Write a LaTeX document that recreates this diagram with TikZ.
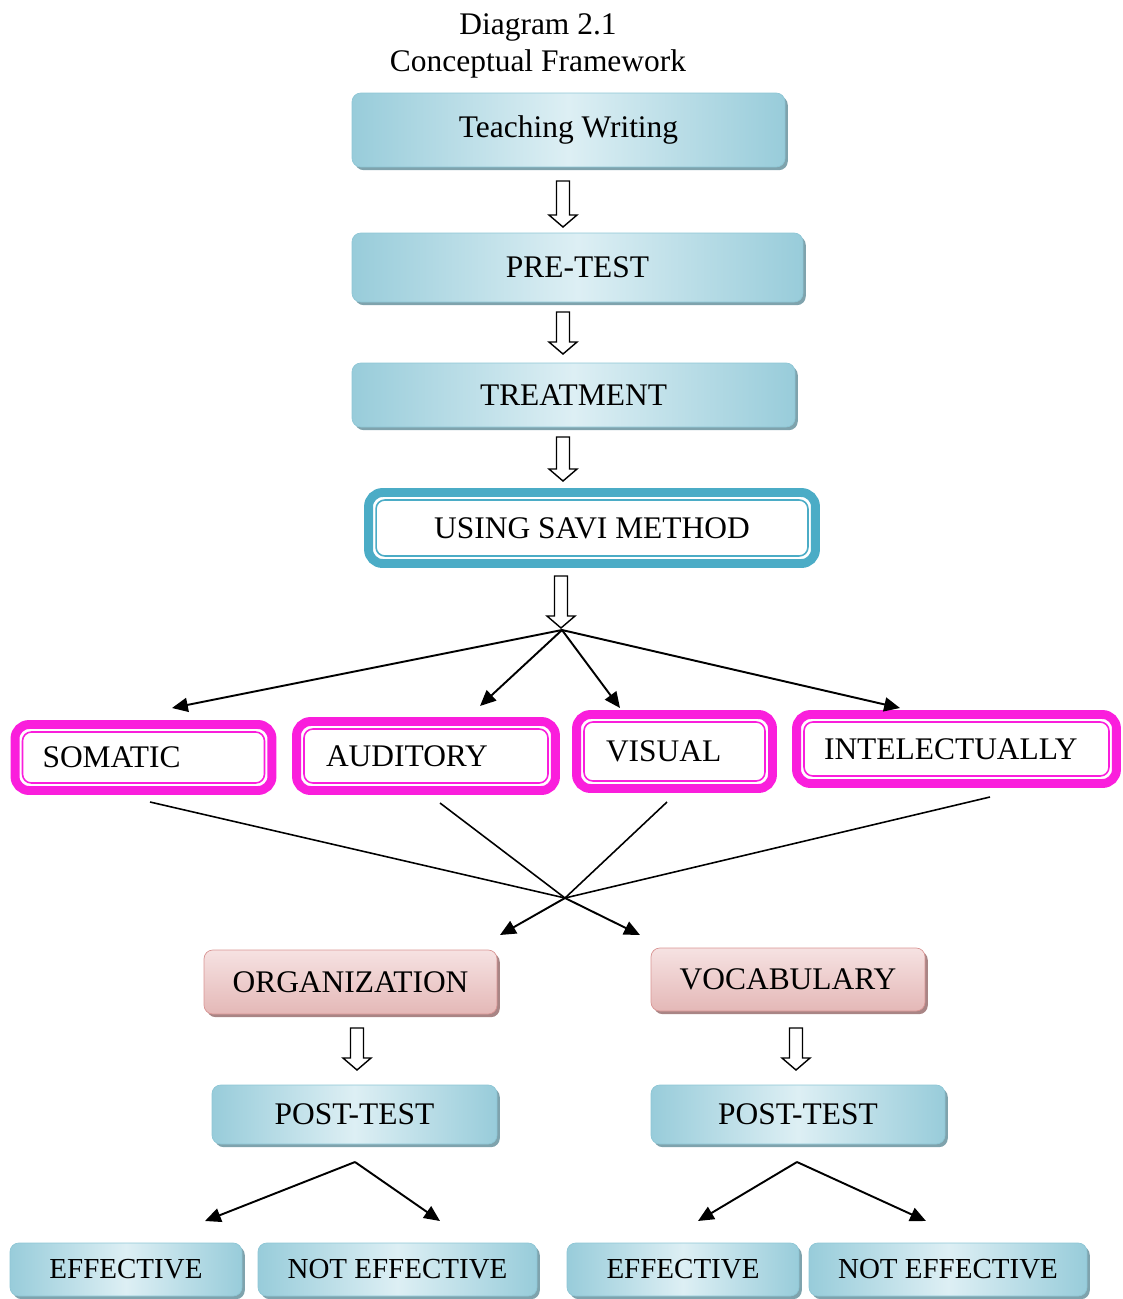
\documentclass[tikz,border=0pt]{standalone}
\usepackage{fontspec}
\setmainfont{Liberation Serif}
\usepackage{tikz}
\usetikzlibrary{shadows,arrows.meta}
\definecolor{blueedge}{HTML}{98CCDA}
\definecolor{bluemid}{HTML}{DDEFF4}
\definecolor{blueline}{HTML}{8DC6D5}
\definecolor{blueshadow}{HTML}{7FA3AD}
\definecolor{pinktop}{HTML}{F6E2E2}
\definecolor{pinkbottom}{HTML}{E4B8B7}
\definecolor{pinkline}{HTML}{D99594}
\definecolor{pinkshadow}{HTML}{A98585}
\definecolor{saviblue}{HTML}{4BACC6}
\definecolor{ringpink}{HTML}{FA1EDC}

\begin{document}
\begin{tikzpicture}[x=0.02cm,y=-0.02cm,
    every node/.style={font=\fontsize{17.9}{21}\selectfont},
    resfont/.style={font=\fontsize{16.5}{20}\selectfont},
    bluebox/.style={draw=blueline, rounded corners=5pt, left color=blueedge, right color=blueedge, middle color=bluemid,
        drop shadow={shadow xshift=1.6pt, shadow yshift=-1.8pt, fill=blueshadow, opacity=1}},
    pinkbox/.style={draw=pinkline, rounded corners=5pt, top color=pinktop, bottom color=pinkbottom,
        drop shadow={shadow xshift=1.6pt, shadow yshift=-1.8pt, fill=pinkshadow, opacity=1}},
    ringbox/.style={draw=#1, line width=5.1pt, rounded corners=8pt, fill=white, outer sep=0pt},
    sidebox/.style={align=left},
    arr/.style={line width=1.1pt, -{Triangle[length=9pt,width=8pt]}},
    link/.style={line width=0.9pt},
    pics/hollow/.style={code={\draw[line width=0.8pt, fill=white] (-6.5,0) -- (6.5,0) -- (6.5,#1-12) -- (14,#1-12) -- (0,#1) -- (-14,#1-12) -- (-6.5,#1-12) -- cycle;}}]
\useasboundingbox (0,0) rectangle (1123,1299);

\node[align=center] (title) at (538,46) {Diagram 2.1\\Conceptual Framework};

% main column
\node[bluebox, minimum width=8.66cm, minimum height=1.48cm] (tw) at (568.5,130) {Teaching Writing};
\node[bluebox, minimum width=9.02cm, minimum height=1.38cm] (pre) at (577.5,267.5) {PRE-TEST};
\node[bluebox, minimum width=8.86cm, minimum height=1.28cm] (treat) at (573.5,395) {TREATMENT};
\node[ringbox=saviblue, minimum width=8.94cm, minimum height=1.42cm] (savi) at (592,528) {USING SAVI METHOD};

\pic at (563,181) {hollow=46};
\pic at (563,312) {hollow=42};
\pic at (563,437) {hollow=44};
\pic at (561,576) {hollow=52};

% savi parts
\node[ringbox=ringpink, sidebox, text width=4.04cm, inner xsep=0.55cm, minimum height=1.32cm] (som) at (143.5,757.5) {SOMATIC};
\node[ringbox=ringpink, sidebox, text width=4.0cm, inner xsep=0.59cm, minimum height=1.38cm] (aud) at (426,756) {AUDITORY};
\node[ringbox=ringpink, sidebox, text width=2.74cm, inner xsep=0.59cm, minimum height=1.48cm] (vis) at (674.5,751.5) {VISUAL};
\node[ringbox=ringpink, sidebox, text width=5.3cm, inner xsep=0.55cm, minimum height=1.38cm] (intel) at (956.5,749) {INTELECTUALLY};

\foreach \n/\c in {savi/saviblue, som/ringpink, aud/ringpink, vis/ringpink, intel/ringpink}
    \draw[\c, line width=0.9pt, rounded corners=5pt] ([shift={(7.5,7.5)}]\n.north west) rectangle ([shift={(-7.5,-7.5)}]\n.south east);

\coordinate (fork) at (562,630);
\coordinate (som-in) at (172,708);
\coordinate (aud-in) at (480,706);
\coordinate (vis-in) at (620,708);
\coordinate (intel-in) at (900,708);
\foreach \t in {som-in, aud-in, vis-in, intel-in}
    \draw[arr] (fork) -- (\t);

% aspects
\node[pinkbox, minimum width=5.86cm, minimum height=1.28cm] (org) at (350.5,982) {ORGANIZATION};
\node[pinkbox, minimum width=5.48cm, minimum height=1.26cm] (voc) at (788,979.5) {VOCABULARY};

\coordinate (cross) at (565,898);
\coordinate (som-out) at (150,802);
\coordinate (aud-out) at (440,803);
\coordinate (vis-out) at (667,802);
\coordinate (intel-out) at (990,797);
\foreach \s in {som-out, aud-out, vis-out, intel-out}
    \draw[link] (\s) -- (cross);
\coordinate (org-in) at (500,935);
\coordinate (voc-in) at (640,935);
\draw[arr] (cross) -- (org-in);
\draw[arr] (cross) -- (voc-in);

\node[bluebox, minimum width=5.7cm, minimum height=1.18cm] (postl) at (354.5,1114.5) {POST-TEST};
\node[bluebox, minimum width=5.88cm, minimum height=1.18cm] (postr) at (798,1114.5) {POST-TEST};
\pic at (357,1028) {hollow=42};
\pic at (796,1028) {hollow=42};

% results
\node[bluebox, resfont, minimum width=4.64cm, minimum height=1.06cm] (effl) at (126,1269.5) {EFFECTIVE};
\node[bluebox, resfont, minimum width=5.58cm, minimum height=1.06cm] (neffl) at (397.5,1269.5) {NOT EFFECTIVE};
\node[bluebox, resfont, minimum width=4.64cm, minimum height=1.06cm] (effr) at (683,1269.5) {EFFECTIVE};
\node[bluebox, resfont, minimum width=5.56cm, minimum height=1.06cm] (neffr) at (948,1269.5) {NOT EFFECTIVE};

\coordinate (postl-out) at (355,1162);
\coordinate (postr-out) at (797,1162);
\coordinate (effl-in) at (205,1221);
\coordinate (neffl-in) at (440,1221);
\coordinate (effr-in) at (698,1221);
\coordinate (neffr-in) at (926,1221);
\draw[arr] (postl-out) -- (effl-in);
\draw[arr] (postl-out) -- (neffl-in);
\draw[arr] (postr-out) -- (effr-in);
\draw[arr] (postr-out) -- (neffr-in);
\end{tikzpicture}
\end{document}
